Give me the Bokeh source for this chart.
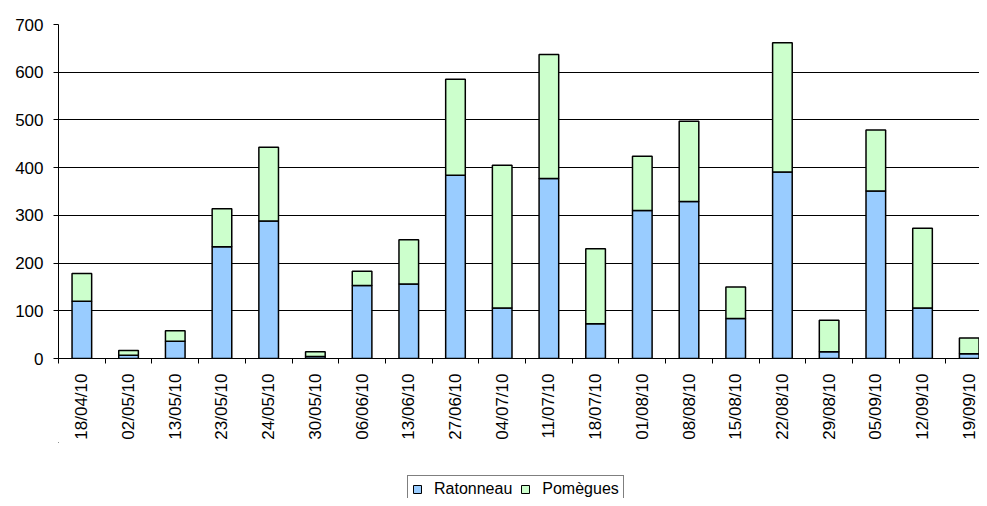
import math
from bokeh.plotting import figure
from bokeh.layouts import column
from bokeh.models import ColumnDataSource, Range1d, FixedTicker, Legend, LegendItem
from bokeh.embed import file_html
from bokeh.resources import INLINE

dates = ["18/04/10", "02/05/10", "13/05/10", "23/05/10", "24/05/10", "30/05/10",
         "06/06/10", "13/06/10", "27/06/10", "04/07/10", "11/07/10", "18/07/10",
         "01/08/10", "08/08/10", "15/08/10", "22/08/10", "29/08/10", "05/09/10",
         "12/09/10", "19/09/10"]
ratonneau = [120, 7, 36, 234, 288, 4, 153, 156, 384, 106, 377, 73,
             310, 329, 84, 391, 14, 351, 106, 10]
pomegues = [58, 10, 22, 80, 155, 10, 30, 93, 201, 299, 260, 157,
            114, 168, 66, 271, 66, 128, 167, 33]
y_ticks = [0, 100, 200, 300, 400, 500, 600, 700]
series = ["Ratonneau", "Pomègues"]
colors = ["#99CCFF", "#CCFFCC"]

xs = list(range(len(dates)))
source = ColumnDataSource(dict(x=xs, Ratonneau=ratonneau, Pomegues=pomegues))

FONT = "Liberation Sans"

p = figure(width=979, height=442, output_backend="svg", toolbar_location=None,
           x_range=Range1d(-0.5, 19.22), y_range=Range1d(0, 700),
           min_border_left=58, min_border_right=0, min_border_top=24,
           min_border_bottom=0)
p.outline_line_color = None

rs = p.vbar_stack(["Ratonneau", "Pomegues"], x="x", width=0.42, source=source,
                  color=colors, line_color="black", line_width=1.5)

# y axis
p.yaxis.ticker = FixedTicker(ticks=y_ticks)
p.yaxis.major_label_text_font = FONT
p.yaxis.major_label_text_font_size = "17px"
p.yaxis.major_label_text_color = "black"
p.yaxis.major_tick_in = 0
p.yaxis.major_tick_out = 5
p.yaxis.minor_tick_line_color = None
p.yaxis.axis_line_color = "black"
p.yaxis.major_label_standoff = 10

# x axis
boundaries = [i - 0.5 for i in range(len(dates) + 1)]
p.xaxis.ticker = FixedTicker(ticks=xs, minor_ticks=boundaries)
p.xaxis.major_label_overrides = {i: d for i, d in zip(xs, dates)}
p.xaxis.major_label_orientation = math.pi / 2
p.xaxis.major_label_text_font = FONT
p.xaxis.major_label_text_font_size = "17px"
p.xaxis.major_label_text_color = "black"
p.xaxis.major_tick_in = 0
p.xaxis.major_tick_out = 0
p.xaxis.minor_tick_in = 0
p.xaxis.minor_tick_out = 5
p.xaxis.minor_tick_line_color = "black"
p.xaxis.axis_line_color = "black"
p.xaxis.major_label_standoff = 10

p.xgrid.grid_line_color = None
p.ygrid.grid_line_color = "black"
p.ygrid.grid_line_width = 1

# legend figure
p2 = figure(width=979, height=56, output_backend="svg", toolbar_location=None,
            x_range=Range1d(0, 1), y_range=Range1d(0, 1),
            x_axis_location=None, y_axis_location=None, min_border=0)
p2.outline_line_color = None
p2.grid.grid_line_color = None
dummies = [p2.vbar(x=[-10], bottom=[5], top=[6], width=0.5, fill_color=c,
                   line_color="black", line_width=1) for c in colors]

legend = Legend(items=[LegendItem(label=s, renderers=[r]) for s, r in zip(series, dummies)],
                orientation="horizontal", location=(349, -5),
                label_text_font=FONT, label_text_font_size="16px",
                label_text_color="black",
                label_height=16, glyph_width=10, glyph_height=10,
                label_standoff=12, spacing=8, padding=4, margin=0,
                border_line_color="black", border_line_width=1,
                background_fill_color="white", background_fill_alpha=1)
p2.add_layout(legend, "center")

open("out.html", "w").write(file_html(column(p, p2, spacing=0), INLINE))
